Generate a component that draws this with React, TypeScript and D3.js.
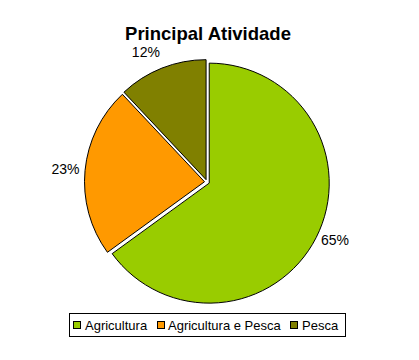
import React from "react";
import * as d3 from "d3";

const categories = ["Agricultura", "Agricultura e Pesca", "Pesca"];
const values = [65, 23, 12];
const labels = ["65%", "23%", "12%"];
const colors = ["#99cc00", "#ff9900", "#808000"];

export default function App() {
  const W = 419, H = 360;
  const cx = 207, cy = 182, r = 120;
  const pie = d3.pie<number>().sort(null).value((d) => d);
  const arcs = pie(values);
  const arcGen = d3.arc<d3.PieArcDatum<number>>().innerRadius(0).outerRadius(r);
  const labelR = r + 8;
  const legendItems = [
    { x: 73, tx: 85 },
    { x: 157, tx: 168 },
    { x: 290, tx: 302 },
  ];
  return (
    <svg width={W} height={H} style={{ position: "absolute", left: 0, top: 0, background: "#fff" }}>
      <rect width={W} height={H} fill="#fff" />
      <text x={208} y={40} textAnchor="middle" fontFamily="Liberation Sans, Arial, sans-serif" fontWeight="bold" fontSize={18.5}>
        Principal Atividade
      </text>
      <g transform={`translate(${cx},${cy})`}>
        {arcs.map((a, i) => {
          const mid = (a.startAngle + a.endAngle) / 2;
          const off = 2.5;
          const dx = Math.sin(mid) * off, dy = -Math.cos(mid) * off;
          return (
            <path key={i} d={arcGen(a) || ""} transform={`translate(${dx},${dy})`} fill={colors[i]} stroke="#000" strokeWidth={1} />
          );
        })}
        {arcs.map((a, i) => {
          const mid = (a.startAngle + a.endAngle) / 2;
          const px = Math.sin(mid) * labelR;
          const py = -Math.cos(mid) * labelR;
          const anchor = px < 0 ? "end" : "start";
          const by = py + 5 - 12 * Math.max(0, Math.cos(mid));
          return (
            <text key={i} x={px} y={by} textAnchor={anchor} fontFamily="Liberation Sans, Arial, sans-serif" fontSize={14}>
              {labels[i]}
            </text>
          );
        })}
      </g>
      <rect x={69.5} y={313.5} width={276} height={23} fill="#fff" stroke="#000" strokeWidth={1} />
      {categories.map((c, i) => (
        <g key={c}>
          <rect x={legendItems[i].x + 0.5} y={321.5} width={7} height={7} fill={colors[i]} stroke="#000" strokeWidth={1} />
          <text x={legendItems[i].tx} y={330} fontFamily="Liberation Sans, Arial, sans-serif" fontSize={13}>
            {c}
          </text>
        </g>
      ))}
    </svg>
  );
}
